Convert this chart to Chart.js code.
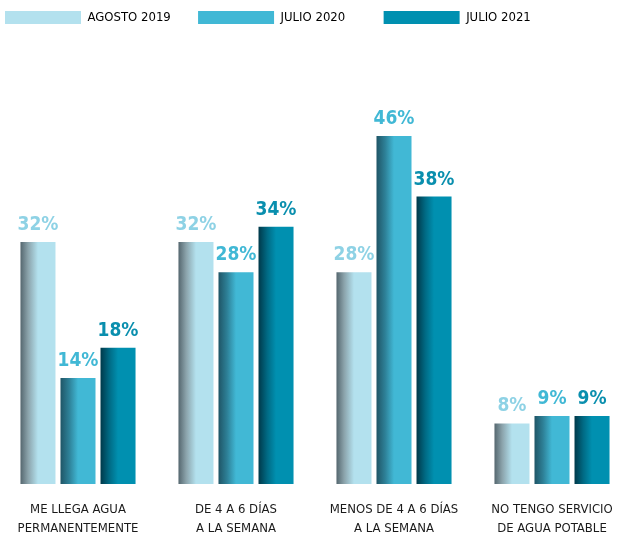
<!DOCTYPE html>
<html>
<head>
<meta charset="utf-8">
<script src="https://cdn.jsdelivr.net/npm/chart.js@4/dist/chart.umd.min.js"></script>
<style>
  html, body { margin: 0; padding: 0; background: #fff; }
  #wrap { width: 622px; height: 539px; }
</style>
</head>
<body>
<div id="wrap"><canvas id="aguaChart"></canvas></div>
<script>
var categories = [
  ["ME LLEGA AGUA", "PERMANENTEMENTE"],
  ["DE 4 A 6 DÍAS", "A LA SEMANA"],
  ["MENOS DE 4 A 6 DÍAS", "A LA SEMANA"],
  ["NO TENGO SERVICIO", "DE AGUA POTABLE"],
];
var seriesNames = ["AGOSTO 2019", "JULIO 2020", "JULIO 2021"];
var agosto2019 = [32, 32, 28, 8];
var julio2020 = [14, 28, 46, 9];
var julio2021 = [18, 34, 38, 9];

var FONT = "'DejaVu Sans Condensed', 'Liberation Sans Narrow', sans-serif";
var catPct = 0.76;
var barPct = 0.875;

var solid = ["#b3e1ee", "#41b8d5", "#0090b0"];
var labelColors = ["#8ed2e5", "#41b8d5", "#0a8fae"];
var shade = [
  [[0, "#55676f"], [0.22, "#8ba3ab"], [0.5, "#b3e1ee"], [1, "#b3e1ee"]],
  [[0, "#1f5566"], [0.25, "#2e8198"], [0.5, "#41b8d5"], [1, "#41b8d5"]],
  [[0, "#00394a"], [0.25, "#006a84"], [0.5, "#0090b0"], [1, "#0090b0"]],
];
// trailing spaces keep the legend items spread out like the original
var legendGap = ["      ", "         ", ""];

function barFill(di) {
  return function (c) {
    var chart = c.chart;
    var x = chart.scales.x;
    if (c.type !== "data" || !x || !x.width) return solid[di];
    var step = x.getPixelForValue(1) - x.getPixelForValue(0);
    var chunk = (step * catPct) / 3;
    var mid = x.getPixelForValue(c.dataIndex) + (di - 1) * chunk;
    var w = chunk * barPct;
    var g = chart.ctx.createLinearGradient(mid - w / 2, 0, mid + w / 2, 0);
    shade[di].forEach(function (s) { g.addColorStop(s[0], s[1]); });
    return g;
  };
}

var valueLabels = {
  id: "valueLabels",
  afterDatasetsDraw: function (chart) {
    var ctx = chart.ctx;
    ctx.save();
    ctx.font = "bold 19px " + FONT;
    ctx.textAlign = "center";
    ctx.textBaseline = "alphabetic";
    chart.data.datasets.forEach(function (ds, di) {
      var meta = chart.getDatasetMeta(di);
      ctx.fillStyle = labelColors[di];
      meta.data.forEach(function (el, i) {
        ctx.fillText(ds.data[i] + "%", el.x, el.y - 12);
      });
    });
    ctx.restore();
  },
};

var values = [agosto2019, julio2020, julio2021];
var datasets = values.map(function (v, di) {
  return {
    label: seriesNames[di],
    data: v,
    backgroundColor: barFill(di),
    borderWidth: 0,
    categoryPercentage: catPct,
    barPercentage: barPct,
    clip: false,
  };
});

new Chart(document.getElementById("aguaChart"), {
  type: "bar",
  data: { labels: categories, datasets: datasets },
  options: {
    responsive: true,
    maintainAspectRatio: false,
    animation: false,
    layout: { padding: { top: 6, left: 0, right: 0, bottom: 0 } },
    plugins: {
      tooltip: { enabled: false },
      legend: {
        position: "top",
        align: "start",
        labels: {
          boxWidth: 76,
          boxHeight: 13,
          padding: 5,
          color: "#1a1a1a",
          font: { family: FONT, size: 13 },
          generateLabels: function (chart) {
            return seriesNames.map(function (n, i) {
              return {
                text: n + legendGap[i],
                fillStyle: solid[i],
                strokeStyle: solid[i],
                lineWidth: 0,
                datasetIndex: i,
                hidden: false,
              };
            });
          },
        },
      },
    },
    scales: {
      x: {
        offset: false,
        grid: { display: false },
        border: { display: false },
        ticks: {
          autoSkip: false,
          maxRotation: 0,
          padding: 8,
          color: "#1a1a1a",
          font: { family: FONT, size: 13, lineHeight: "19px" },
        },
        afterFit: function (s) { s.height = 55; },
      },
      y: {
        min: 0,
        max: 59.5,
        display: true,
        grid: { display: false },
        border: { display: false },
        ticks: { display: false },
        afterFit: function (s) { s.width = 78; },
      },
      y2: {
        type: "linear",
        position: "right",
        display: true,
        grid: { display: false },
        border: { display: false },
        ticks: { display: false },
        afterFit: function (s) { s.width = 70; },
      },
    },
  },
  plugins: [valueLabels],
});
</script>
</body>
</html>
